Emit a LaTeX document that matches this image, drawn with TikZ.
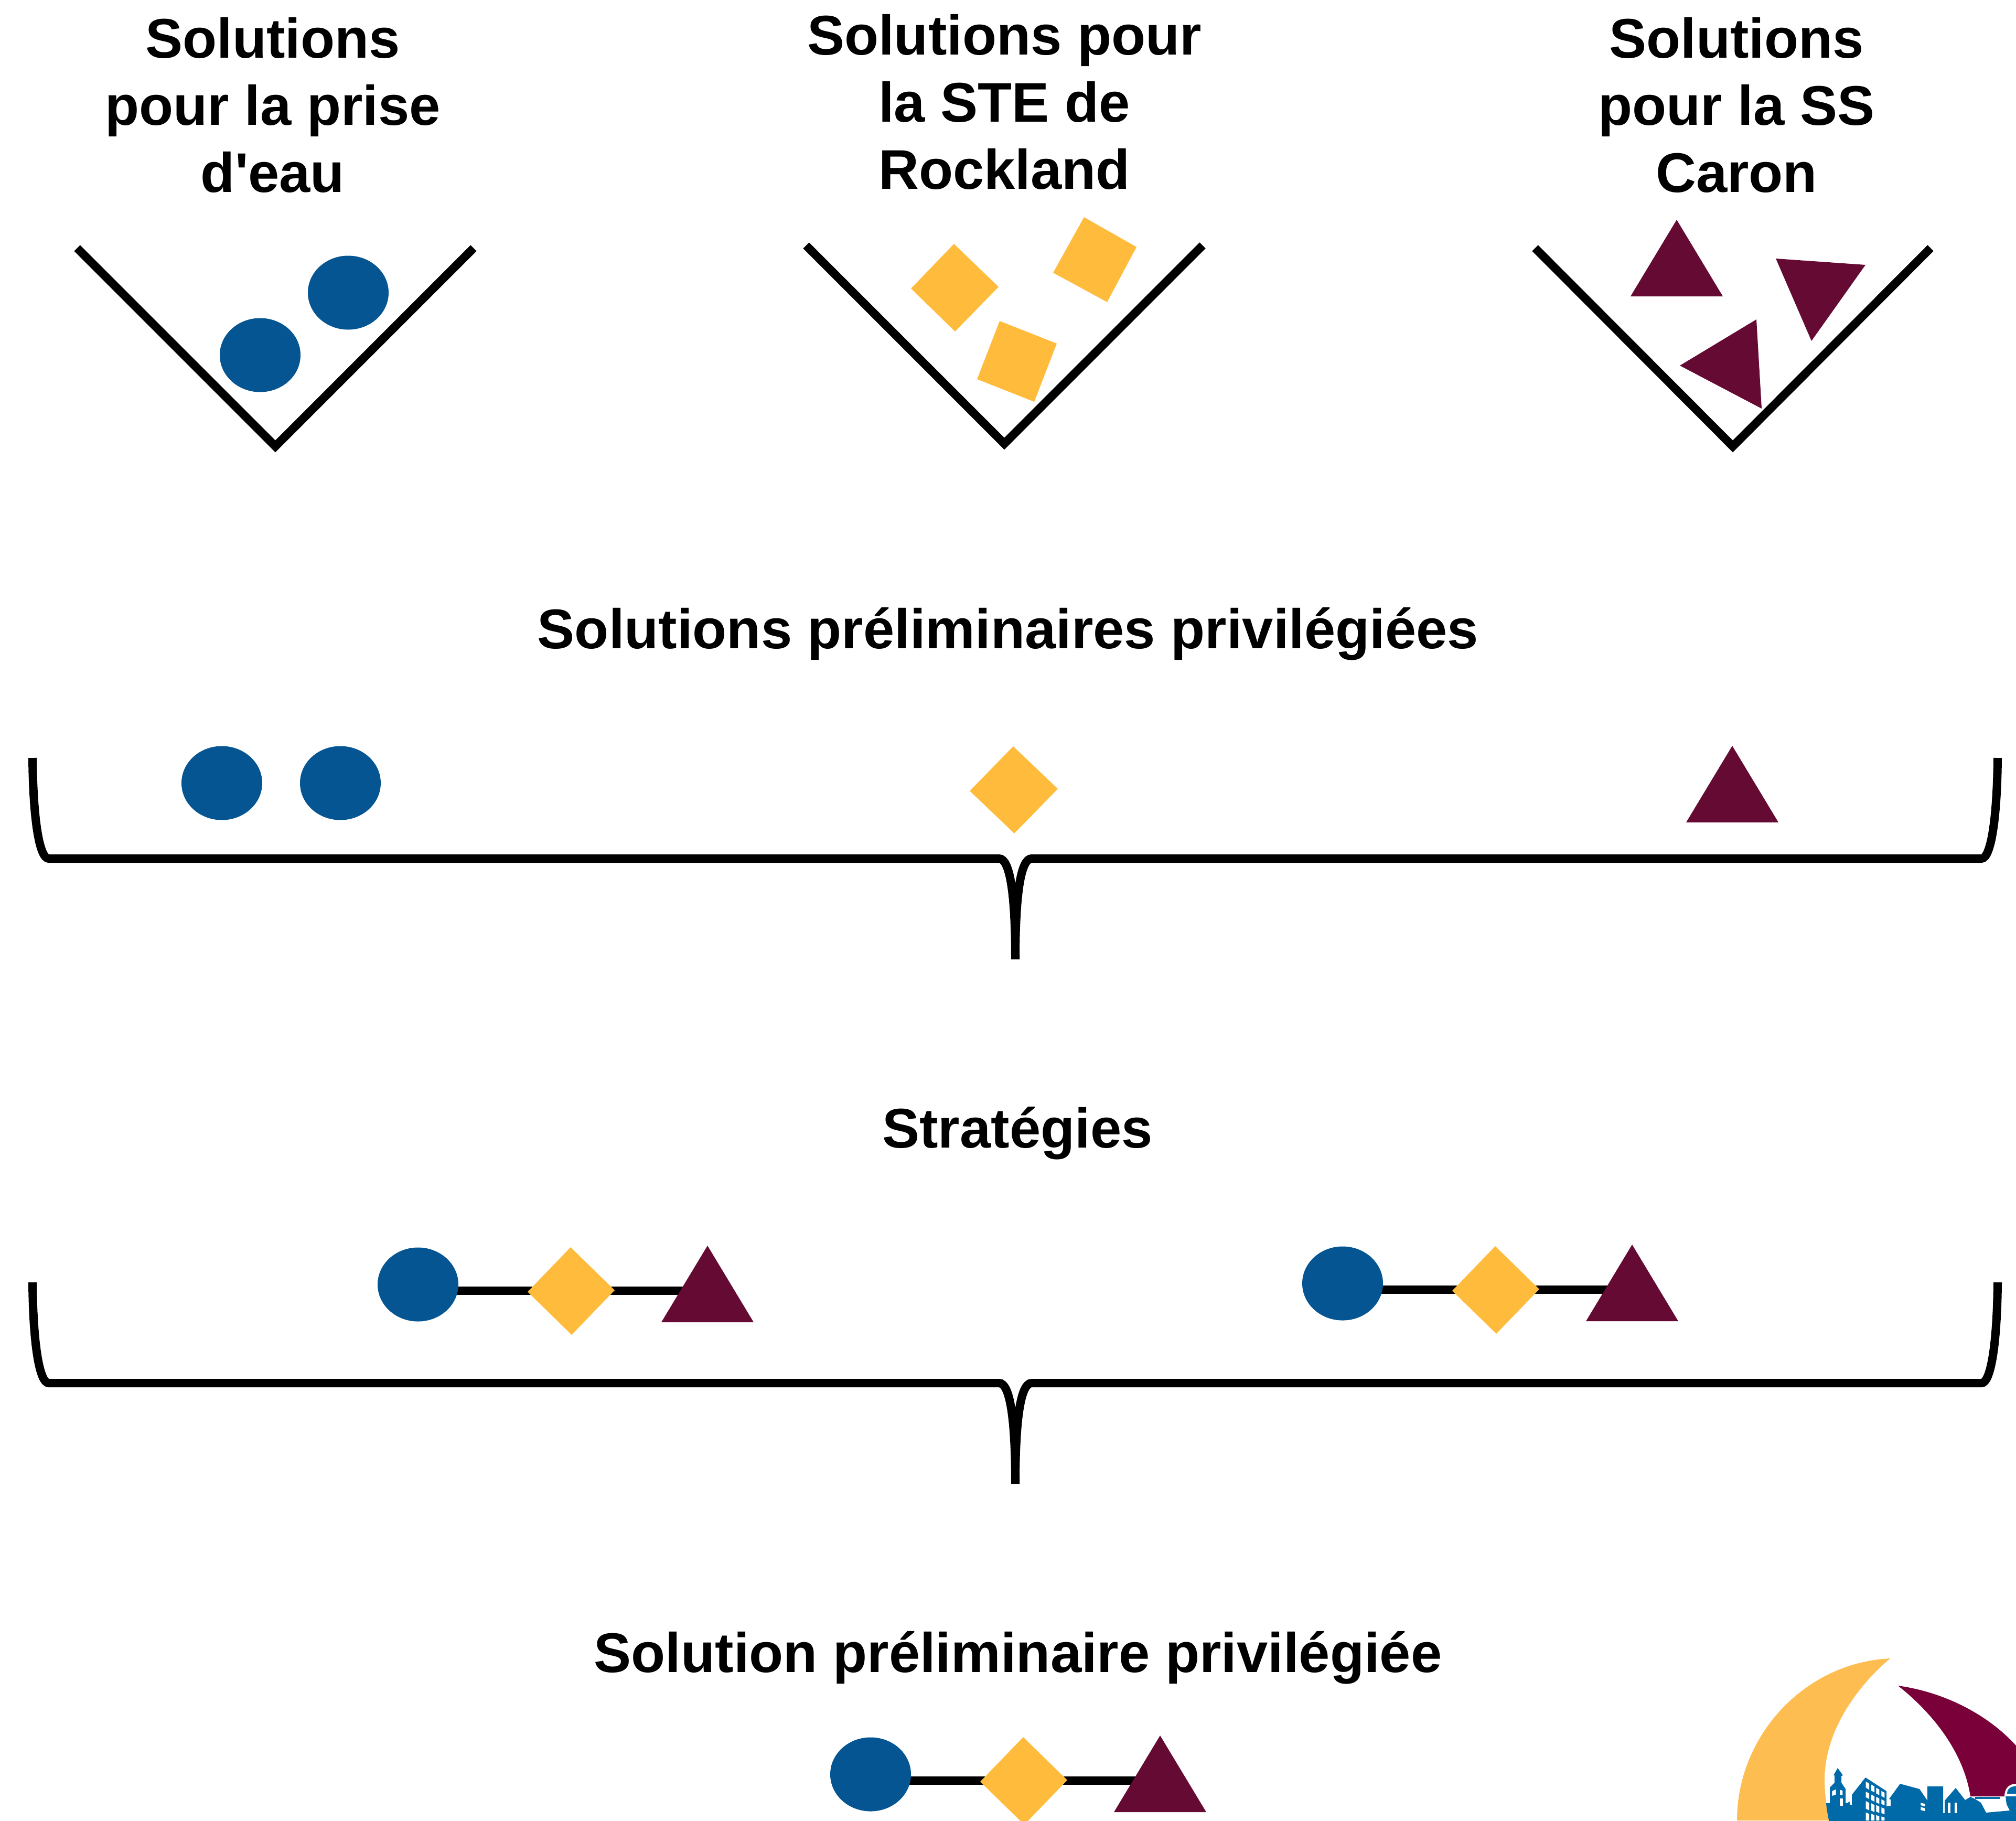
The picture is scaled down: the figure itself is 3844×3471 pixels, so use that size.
\documentclass[tikz,border=0pt]{standalone}
\usepackage{fontspec}
\setmainfont{Liberation Sans}
\definecolor{cblue}{HTML}{045592}
\definecolor{cyellow}{HTML}{FFBC3C}
\definecolor{cmaroon}{HTML}{640A33}
\definecolor{lyellow}{HTML}{FDBD50}
\definecolor{lmaroon}{HTML}{7A003A}
\definecolor{lblue}{HTML}{0069A8}
\tikzset{
  rule/.style={draw=black,line width=.16cm,line cap=butt,miter limit=20},
  title/.style={font=\fontsize{30.3pt}{36.4pt}\selectfont\bfseries,align=center,inner sep=0pt,outer sep=0pt},
  bluef/.style={fill=cblue},
  yellowf/.style={fill=cyellow},
  maroonf/.style={fill=cmaroon},
  win/.style={fill=white},
}
\newcommand{\disc}[2]{\fill[bluef] (#1,#2) ellipse [x radius=77,y radius=70.5];}
\newcommand{\dmd}[2]{\fill[yellowf] (#1-2,#2-85) -- (#1+82,#2-3) -- (#1,#2+82) -- (#1-84,#2) -- cycle;}
\newcommand{\tri}[2]{\fill[maroonf] (#1,#2) -- (#1+88,#2+146) -- (#1-88,#2+146) -- cycle;}
\newcommand{\chain}[3]{%
  \begin{scope}[shift={(#2,#3)}]
    \coordinate (#1a) at (1660,3395);
    \coordinate (#1b) at (2200,3395);
    \draw[rule] (#1a) -- (#1b);
    \disc{1660}{3383}
    \dmd{1953}{3397}
    \tri{2212}{3309}
  \end{scope}}
\newcommand{\curly}[2]{%
  \begin{scope}[shift={(0,#2)}]
    \coordinate (#1l) at (62,1445);
    \coordinate (#1t) at (1936,1829);
    \coordinate (#1r) at (3809,1445);
    \draw[rule] (#1l) .. controls (63,1555) and (74,1637) .. (93,1637) -- (1905,1637) .. controls (1925,1637) and (1936,1700) .. (#1t);
    \draw[rule] (#1r) .. controls (3808,1555) and (3797,1637) .. (3778,1637) -- (1967,1637) .. controls (1947,1637) and (1936,1700) .. (#1t);
  \end{scope}}
\begin{document}
\begin{tikzpicture}[x=.01cm,y=-.01cm]
\clip (0,0) rectangle (3844,3471);
% titles
\node[title,anchor=north] (t1) at (520,33) {Solutions\\pour la prise\\d\textquotesingle eau};
\node[title,anchor=north] (t2) at (1915,27) {Solutions pour\\la STE de\\Rockland};
\node[title,anchor=north] (t3) at (3311,33) {Solutions\\pour la SS\\Caron};
\node[title,anchor=base] (t4) at (1922,1236) {Solutions préliminaires privilégiées};
\node[title,anchor=base] (t5) at (1940,2188) {Stratégies};
\node[title,anchor=base] (t6) at (1941,3188) {Solution préliminaire privilégiée};
% funnels
\coordinate (v1a) at (147,473); \coordinate (v1b) at (525,851); \coordinate (v1c) at (903,473);
\coordinate (v2a) at (1537,468); \coordinate (v2b) at (1915,846); \coordinate (v2c) at (2293,468);
\coordinate (v3a) at (2927,473); \coordinate (v3b) at (3304,851); \coordinate (v3c) at (3681,473);
\draw[rule] (v1a) -- (v1b) -- (v1c);
\draw[rule] (v2a) -- (v2b) -- (v2c);
\draw[rule] (v3a) -- (v3b) -- (v3c);
% funnel contents
\disc{664}{558}
\disc{496}{677}
\fill[yellowf] (1819,465) -- (1904,547) -- (1821,632) -- (1737,550) -- cycle;
\fill[yellowf] (1906,612) -- (2015,655) -- (1972,766) -- (1863,723) -- cycle;
\fill[yellowf] (2067,414) -- (2167,471) -- (2111,576) -- (2008,520) -- cycle;
\fill[maroonf] (3197,419) -- (3285,565) -- (3109,565) -- cycle;
\fill[maroonf] (3349,609) -- (3359,779) -- (3203,697) -- cycle;
\fill[maroonf] (3386,493) -- (3557,505) -- (3454,650) -- cycle;
% second row
\disc{423}{1493}
\disc{649}{1493}
\fill[yellowf] (1932,1423) -- (2017,1504) -- (1934,1589) -- (1849,1508) -- cycle;
\tri{3303}{1422}
\curly{b1}{0}
% strategies
\chain{g1}{-863}{-934}
\chain{g2}{900}{-936}
\curly{b2}{1000}
\chain{g3}{0}{0}
% logo
\fill[lyellow] (3604,3162) .. controls (3440,3170) and (3312,3310) .. (3312,3471) -- (3488,3471) .. controls (3483,3445) and (3479,3420) .. (3479,3393) .. controls (3479,3310) and (3530,3225) .. cycle;
\fill[lmaroon] (3619,3214) .. controls (3700,3225) and (3790,3265) .. (3850,3335) -- (3850,3401) -- (3844,3401) .. controls (3832,3401) and (3822,3408) .. (3822,3425) -- (3757,3425) .. controls (3745,3345) and (3690,3270) .. cycle;
\fill[lblue] (3482,3438) -- (3489,3438) -- (3489,3408) -- (3498,3399) -- (3498,3385) -- (3496,3385) -- (3504,3371) -- (3514,3385) -- (3511,3386) -- (3511,3399) -- (3519,3411) -- (3519,3438) -- (3524,3437) -- (3526,3434) -- (3528,3441) -- (3531,3441) -- (3531,3422) -- (3557,3389) -- (3597,3415) -- (3597,3444) -- (3605,3443) -- (3605,3431) -- (3602,3430) -- (3623,3401) -- (3660,3411) -- (3675,3433) -- (3675,3406) -- (3705,3406) -- (3705,3457) -- (3708,3457) -- (3708,3433) -- (3729,3409) -- (3747,3432) -- (3757,3426) -- (3766,3430) -- (3777,3437) -- (3787,3456) -- (3832,3452) -- (3826,3440) -- (3824,3425) -- (3850,3425) -- (3850,3475) -- (3488,3475) .. controls (3485,3460) and (3483,3450) .. cycle;
\fill[lblue] (3766,3426) rectangle (3813,3430);
\fill[lblue] (3827,3420) .. controls (3827,3410) and (3834,3405) .. (3850,3405) -- (3850,3420) -- cycle;
\begin{scope}[shift={(3460,3340)},x=.01cm/3,y=-.01cm/3]
  \foreach \xa/\xb/\ta/\tb/\ba/\bb in {293/312/170/182/205/217, 324/342/188/198/222/232, 352/370/206/216/238/248, 382/400/224/234/253/263,
    293/312/228/238/260/270, 324/342/245/254/276/285, 352/370/258/267/289/298, 382/400/272/281/298/307,
    293/312/282/292/325/335, 324/342/295/304/336/345, 352/370/305/313/342/350, 382/400/318/326/350/358,
    293/312/347/355/393/393, 324/342/355/362/393/393, 352/370/362/369/393/393, 382/400/370/376/393/393}
    {\fill[win] (\xa,\ta) -- (\xb,\tb) -- (\xb,\bb) -- (\xa,\ba) -- cycle;}
  \fill[win] (100,225) -- (122,215) -- (122,245) -- (100,252) -- cycle;
  \fill[win] (145,218) -- (160,222) -- (160,247) -- (145,245) -- cycle;
  \fill[win] (144,266) rectangle (161,308);
\end{scope}
\begin{scope}[shift={(3644,3340)},x=.01cm/3,y=-.01cm/3]
  \fill[win] (55,292) -- (80,298) -- (80,312) -- (55,306) -- cycle;
  \fill[win] (55,316) -- (80,323) -- (80,340) -- (55,333) -- cycle;
  \fill[win] (211,292) rectangle (226,350);
  \fill[win] (248,292) rectangle (264,350);
\end{scope}
\end{tikzpicture}
\end{document}
